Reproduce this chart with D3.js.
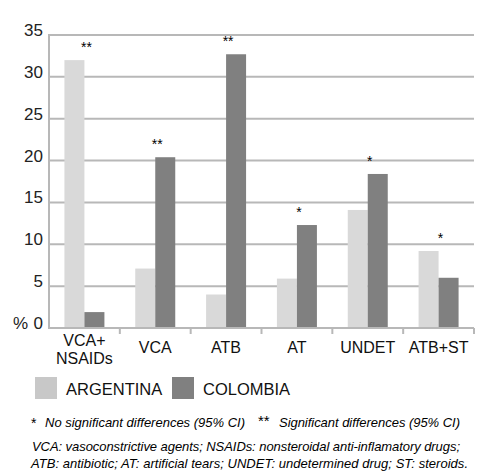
<!DOCTYPE html>
<html>
<head>
<meta charset="utf-8">
<script src="https://cdn.jsdelivr.net/npm/d3@7"></script>
<style>
  body { margin: 0; background: #fff; }
  text { font-family: "Liberation Sans", Arial, sans-serif; }
</style>
</head>
<body>
<script>
const categories = ["VCA+\nNSAIDs", "VCA", "ATB", "AT", "UNDET", "ATB+ST"];
const argentina = [32.0, 7.1, 4.0, 5.9, 14.1, 9.2];
const colombia = [1.9, 20.4, 32.7, 12.3, 18.4, 6.0];
const marks = ["**", "**", "**", "*", "*", "*"];
const yTicks = [0, 5, 10, 15, 20, 25, 30, 35];
const series = ["ARGENTINA", "COLOMBIA"];

const w = 500;
const h = 473;
const padL = 49, padR = 474, padT = 35, padB = 328;

const svg = d3.select("body").append("svg").attr("width", w).attr("height", h);

const x = d3.scaleBand().domain(d3.range(categories.length)).range([padL, padR]);
const xs = d3.scaleBand().domain([0, 1]).range([0, 40]);
const y = d3.scaleLinear().domain([0, 35]).range([padB, padT]);
const color = d3.scaleOrdinal().domain([0, 1]).range(["#d9d9d9", "#808080"]);

// grid
svg.append("g")
  .selectAll("line")
  .data(yTicks.slice(1))
  .enter()
  .append("line")
  .attr("x1", padL).attr("x2", padR)
  .attr("y1", (d) => y(d)).attr("y2", (d) => y(d))
  .attr("stroke", "#b8b8b8").attr("stroke-width", 2);

// y labels
svg.append("g")
  .selectAll("text")
  .data(yTicks)
  .enter()
  .append("text")
  .attr("x", 43)
  .attr("y", (d) => y(d) + 1)
  .attr("text-anchor", "end")
  .attr("font-size", 17)
  .attr("fill", "#222")
  .text((d) => d);

svg.append("text").attr("x", 13).attr("y", 329).attr("font-size", 17).attr("fill", "#222").text("%");

// bars
const groups = svg.append("g")
  .selectAll("g")
  .data(categories.map((c, i) => ({ i, vals: [argentina[i], colombia[i]] })))
  .enter()
  .append("g")
  .attr("transform", (d) => "translate(" + (x(d.i) + x.bandwidth() / 2 - 20) + ",0)");

groups.selectAll("rect")
  .data((d) => d.vals)
  .enter()
  .append("rect")
  .attr("x", (d, j) => xs(j))
  .attr("width", xs.bandwidth())
  .attr("y", (d) => y(d))
  .attr("height", (d) => y(0) - y(d))
  .attr("fill", (d, j) => color(j));

// significance marks
svg.append("g")
  .selectAll("text")
  .data(categories)
  .enter()
  .append("text")
  .attr("x", (d, i) => x(i) + x.bandwidth() / 2 + 2)
  .attr("y", (d, i) => y(Math.max(argentina[i], colombia[i])) - 8)
  .attr("text-anchor", "middle")
  .attr("font-size", 14)
  .text((d, i) => marks[i]);

// axes lines
svg.append("line").attr("x1", padL).attr("x2", padL).attr("y1", padT - 1).attr("y2", padB + 1)
  .attr("stroke", "#b8b8b8").attr("stroke-width", 2);
svg.append("line").attr("x1", padL).attr("x2", padR).attr("y1", padB).attr("y2", padB)
  .attr("stroke", "#b8b8b8").attr("stroke-width", 2);
svg.append("g")
  .selectAll("line")
  .data(d3.range(1, categories.length + 1))
  .enter()
  .append("line")
  .attr("x1", (d) => padL + d * x.step()).attr("x2", (d) => padL + d * x.step())
  .attr("y1", padB).attr("y2", padB + 6)
  .attr("stroke", "#b8b8b8").attr("stroke-width", 2);

// category labels
const cat = svg.append("g")
  .selectAll("text")
  .data(categories)
  .enter()
  .append("text")
  .attr("text-anchor", "middle")
  .attr("font-size", 16)
  .attr("fill", "#111")
  .attr("y", (d) => (d.includes("\n") ? 346 : 353));
cat.selectAll("tspan")
  .data((d, i) => d.split("\n").map((s) => ({ s, i })))
  .enter()
  .append("tspan")
  .attr("x", (d) => x(d.i) + x.bandwidth() / 2)
  .attr("dy", (d, k) => (k === 0 ? 0 : 18))
  .text((d) => d.s);

// legend
const legX = [35, 172];
series.forEach((s, j) => {
  svg.append("rect").attr("x", legX[j]).attr("y", 377).attr("width", 22).attr("height", 22)
    .attr("fill", j === 0 ? "#c8c8c8" : "#808080");
  svg.append("text").attr("x", legX[j] + 31).attr("y", 395).attr("font-size", 16.5).attr("fill", "#111").text(s);
});

// notes
svg.append("text").attr("x", 31).attr("y", 428).attr("font-size", 14).text("*");
svg.append("text").attr("x", 45).attr("y", 427).attr("font-size", 13).attr("font-style", "italic")
  .attr("textLength", 200).attr("lengthAdjust", "spacing")
  .text("No significant differences (95% CI)");
svg.append("text").attr("x", 258).attr("y", 426).attr("font-size", 15).text("**");
svg.append("text").attr("x", 279).attr("y", 427).attr("font-size", 13).attr("font-style", "italic")
  .attr("textLength", 181).attr("lengthAdjust", "spacing")
  .text("Significant differences (95% CI)");
svg.append("text").attr("x", 32).attr("y", 451).attr("font-size", 13).attr("font-style", "italic")
  .attr("textLength", 428).attr("lengthAdjust", "spacing")
  .text("VCA: vasoconstrictive agents; NSAIDs: nonsteroidal anti-inflamatory drugs;");
svg.append("text").attr("x", 31).attr("y", 468).attr("font-size", 13).attr("font-style", "italic")
  .attr("textLength", 437).attr("lengthAdjust", "spacing")
  .text("ATB: antibiotic; AT: artificial tears; UNDET: undetermined drug; ST: steroids.");
</script>
</body>
</html>
